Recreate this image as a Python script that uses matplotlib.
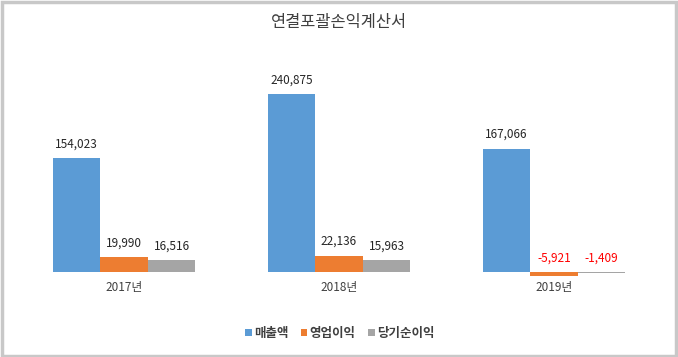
import matplotlib
matplotlib.use("Agg")
import matplotlib.pyplot as plt
from matplotlib.patches import Rectangle
import numpy as np

plt.rcParams['font.family'] = ['Noto Sans CJK KR', 'DejaVu Sans']

title = "연결포괄손익계산서"
categories = ["2017년", "2018년", "2019년"]
series_names = ["매출액", "영업이익", "당기순이익"]
sales = [154023, 240875, 167066]
op_income = [19990, 22136, -5921]
net_income = [16516, 15963, -1409]
colors = ["#5B9BD5", "#ED7D31", "#A5A5A5"]

W, H = 678, 357
fig = plt.figure(figsize=(W / 100, H / 100), dpi=100)

# border
fig.patches.append(Rectangle((0.003, 0.004), 0.994, 0.99, transform=fig.transFigure,
                             fill=False, edgecolor="#C8C8C8", linewidth=2.5))

ax_left, ax_right = 16.5, 661.5
ax_top, ax_bot = 60, 300
ax = fig.add_axes([ax_left / W, (H - ax_bot) / H, (ax_right - ax_left) / W, (ax_bot - ax_top) / H])
ax.set_xlim(-0.5, 2.5)
ax.set_ylim(-37900, 286900)
ax.axis("off")

x = np.arange(len(categories))
bw = 0.221
all_series = [sales, op_income, net_income]
px_per_unit = (ax_bot - ax_top) / (286900 + 37900)
offset = 14 / px_per_unit
for i, (vals, c, name) in enumerate(zip(all_series, colors, series_names)):
    xs = x + (i - 1) * bw
    ax.bar(xs, vals, width=bw, color=c, label=name, zorder=2)
    for xi, v in zip(xs, vals):
        col = "#FF0000" if v < 0 else "#262626"
        ax.text(xi, max(v, 0) + offset, f"{v:,}", ha="center", va="center",
                fontsize=8.5, color=col)

for xi, cat in zip(x, categories):
    ax.text(xi, -16 / px_per_unit, cat, ha="center", va="center", fontsize=8.5, color="#404040")

fig.text(0.5, 1 - 23 / H, title, ha="center", va="center", fontsize=11.8, color="#404040")

leg = fig.legend(loc="center", bbox_to_anchor=(340 / W, 1 - 333 / H), ncol=3, frameon=False,
                 handlelength=0.5, handleheight=0.5, handletextpad=0.2, columnspacing=1.0,
                 prop={'size': 9, 'weight': 'bold'})
for t in leg.get_texts():
    t.set_color("#404040")

fig.savefig("out.png", dpi=100)
